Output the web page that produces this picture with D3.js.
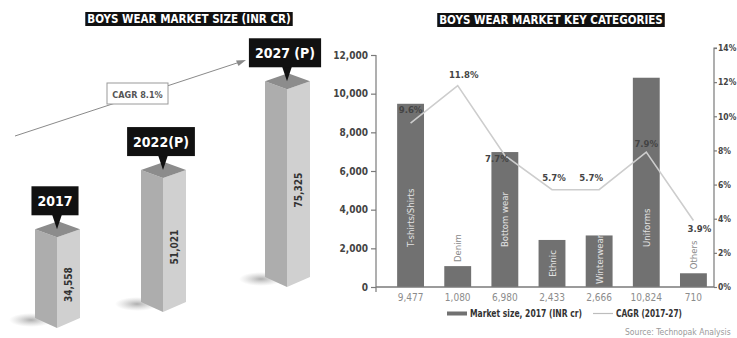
<!DOCTYPE html>
<html>
<head>
<meta charset="utf-8">
<script src="https://cdn.jsdelivr.net/npm/d3@7/dist/d3.min.js"></script>
<style>
  html, body { margin: 0; padding: 0; background: #fff; }
  svg { display: block; }
  text { font-family: "DejaVu Sans Condensed", "Liberation Sans Narrow", "Roboto", sans-serif; }
</style>
</head>
<body>
<svg id="chart" width="737" height="338"></svg>
<script>
// ---- Market size by year ----
const years = ["2017", "2022(P)", "2027 (P)"];
const marketSize = [34558, 51021, 75325];
const marketCagr = "CAGR 8.1%";

// ---- Key categories ----
const categories = ["T-shirts/Shirts", "Denim", "Bottom wear", "Ethnic", "Winterwear", "Uniforms", "Others"];
const categorySize = [9477, 1080, 6980, 2433, 2666, 10824, 710];
const categoryCagr = [9.6, 11.8, 7.7, 5.7, 5.7, 7.9, 3.9];
const sizeTicks = [0, 2000, 4000, 6000, 8000, 10000, 12000];
const cagrTicks = [0, 2, 4, 6, 8, 10, 12, 14];

const svg = d3.select("#chart");
const fmt = d3.format(",");

// ---------- Titles ----------
function title(cx, y, txt) {
  const g = svg.append("g");
  const t = g.append("text").attr("x", cx).attr("y", y)
    .attr("text-anchor", "middle").attr("fill", "#fff")
    .attr("font-size", 11.5).attr("font-weight", "bold").text(txt);
  const b = t.node().getBBox();
  g.insert("rect", "text").attr("x", b.x - 2).attr("y", b.y).attr("width", b.width + 4)
    .attr("height", b.height).attr("fill", "#111");
}
title(189, 23, "BOYS WEAR MARKET SIZE (INR CR)");
title(551, 24, "BOYS WEAR MARKET KEY CATEGORIES");

// ---------- Left panel: isometric columns ----------
const defs = svg.append("defs");
const sh = defs.append("radialGradient").attr("id", "shadow");
sh.append("stop").attr("offset", "0%").attr("stop-color", "#9a9a9a").attr("stop-opacity", 0.8);
sh.append("stop").attr("offset", "100%").attr("stop-color", "#bbb").attr("stop-opacity", 0);

const colHeight = d3.scaleLinear().domain([0, 80000]).range([0, 210]);
const colLeft = [35, 141, 265];     // left corner x of each column
const colBase = [328, 312, 287];    // front-bottom y of each column
const wL = 22, wR = 23, slant = 8;

// trend arrow behind the columns
svg.append("line").attr("x1", 15).attr("y1", 136).attr("x2", 240).attr("y2", 62)
  .attr("stroke", "#8a8a8a").attr("stroke-width", 1);
svg.append("path").attr("d", "M246,60 L236,60.5 L238.5,66 Z").attr("fill", "#8a8a8a");
const cg = svg.append("g");
cg.append("rect").attr("x", 107).attr("y", 83).attr("width", 61).attr("height", 21)
  .attr("fill", "#fff").attr("stroke", "#9a9a9a").attr("stroke-width", 1);
cg.append("text").attr("x", 137.5).attr("y", 97.5).attr("text-anchor", "middle")
  .attr("font-size", 9).attr("font-weight", "bold").attr("fill", "#555").text(marketCagr);

marketSize.forEach((v, i) => {
  const L = colLeft[i], F = L + wL, R = F + wR, base = colBase[i];
  const top = base - colHeight(v);
  const g = svg.append("g");
  // soft floor shadow
  g.append("ellipse").attr("cx", L - 4).attr("cy", base - 8).attr("rx", 22).attr("ry", 7)
    .attr("fill", "url(#shadow)");
  // left face
  g.append("path").attr("d", `M${L},${top - slant} L${F},${top} L${F},${base} L${L},${base - slant - 2} Z`)
    .attr("fill", "#adadad");
  // right face
  g.append("path").attr("d", `M${F},${top} L${R},${top - slant} L${R},${base - slant - 2} L${F},${base} Z`)
    .attr("fill", "#d0d0d0");
  // top face
  g.append("path").attr("d", `M${L},${top - slant} L${F},${top} L${R},${top - slant} L${F + 1},${top - 2 * slant} Z`)
    .attr("fill", "#8c8c8c");
  // value on the right face
  const my = (top + base) / 2 + 2;
  g.append("text").attr("transform", `translate(${F + wR / 2 + 3},${my}) rotate(-90)`)
    .attr("text-anchor", "middle").attr("font-size", 10).attr("font-weight", "bold")
    .attr("fill", "#333").text(fmt(v));
  // year callout
  const bb = top - 22, bh = 29, cx = F - 2;
  const t = g.append("text").attr("x", cx).attr("y", bb - 9).attr("text-anchor", "middle")
    .attr("font-size", 14).attr("font-weight", "bold").attr("fill", "#fff").text(years[i]);
  const bw = t.node().getComputedTextLength() + 12;
  g.insert("path", "text").attr("d", `M${F - 5},${bb - 1} L${F + 5},${bb - 1} L${F},${top - slant}Z`).attr("fill", "#111");
  g.insert("rect", "text").attr("x", cx - bw / 2).attr("y", bb - bh).attr("width", bw).attr("height", bh).attr("fill", "#111");
});

// ---------- Right panel: bars + CAGR line ----------
const x0 = 376, x1 = 714, yBase = 287;
const x = d3.scaleBand().domain(categories).range([387, 717]).paddingInner(0.43).paddingOuter(0.215);
const y = d3.scaleLinear().domain([0, 12000]).range([yBase, 55]);
const yR = d3.scaleLinear().domain([0, 14]).range([yBase, 48]);

// bars
svg.append("g").selectAll("rect").data(categories).join("rect")
  .attr("x", d => x(d)).attr("width", x.bandwidth())
  .attr("y", (d, i) => y(categorySize[i])).attr("height", (d, i) => yBase - y(categorySize[i]))
  .attr("fill", "#717171");

// category names, written upwards inside (or just above) each bar
svg.append("g").selectAll("text").data(categories).join("text")
  .attr("font-size", 9.5).text(d => d)
  .each(function (d, i) {
    const t = d3.select(this);
    const len = this.getComputedTextLength();
    const cx = x(d) + x.bandwidth() / 2 + 3.5;
    const top = y(categorySize[i]), h = yBase - top;
    let yy, fill;
    if (h > 100) { yy = yBase - 40; fill = "#e2e2e2"; }
    else if (h > 30) { yy = Math.min((top + yBase) / 2 + len / 2, yBase - 3); fill = "#e2e2e2"; }
    else { yy = top - 4; fill = "#8a8a8a"; }
    t.attr("transform", `translate(${cx},${yy}) rotate(-90)`)
      .attr("text-anchor", "start").attr("fill", fill);
  });

// values below the axis
svg.append("g").selectAll("text").data(categories).join("text")
  .attr("x", d => x(d) + x.bandwidth() / 2).attr("y", 301)
  .attr("text-anchor", "middle").attr("font-size", 10).attr("fill", "#8c8c8c")
  .text((d, i) => fmt(categorySize[i]));

// CAGR line
const pts = categories.map((d, i) => [x(d) + x.bandwidth() / 2, yR(categoryCagr[i])]);
svg.append("path").attr("d", d3.line()(pts)).attr("fill", "none")
  .attr("stroke", "#cdcdcd").attr("stroke-width", 1.6);
const lblOff = [[0, -10], [6, -8], [-8, 6], [2, -9], [-8, -9], [0, -5], [6, 12]];
svg.append("g").selectAll("text").data(categories).join("text")
  .attr("x", (d, i) => pts[i][0] + lblOff[i][0]).attr("y", (d, i) => pts[i][1] + lblOff[i][1])
  .attr("text-anchor", "middle").attr("font-size", 9.5).attr("font-weight", "bold")
  .attr("fill", "#444").text((d, i) => categoryCagr[i].toFixed(1) + "%");

// axes
const axisColor = "#7a7a7a";
const gl = svg.append("g").attr("transform", `translate(${x0},0)`)
  .call(d3.axisLeft(y).tickValues(sizeTicks).tickFormat(fmt).tickSize(5).tickPadding(3));
gl.select(".domain").attr("d", `M0,55 L0,292`);
const gr = svg.append("g").attr("transform", `translate(${x1},0)`)
  .call(d3.axisRight(yR).tickValues(cagrTicks).tickFormat(d => d + "%").tickSize(3).tickPadding(1));
gr.select(".domain").attr("d", `M3,48 L0,48 L0,${yBase}`);
[gl, gr].forEach(g => {
  g.selectAll(".domain, .tick line").attr("stroke", axisColor).attr("stroke-width", 1.2);
  g.selectAll(".tick text").attr("fill", "#444").attr("font-size", 10).attr("font-weight", "bold")
    .attr("font-family", "\"DejaVu Sans Condensed\", sans-serif");
});
gr.selectAll(".tick text").attr("font-size", 8.5);
svg.append("line").attr("x1", x0).attr("x2", x1).attr("y1", yBase).attr("y2", yBase)
  .attr("stroke", axisColor).attr("stroke-width", 1.4);

// legend
const lg = svg.append("g");
lg.append("rect").attr("x", 447).attr("y", 311.5).attr("width", 20).attr("height", 4).attr("fill", "#717171");
lg.append("text").attr("x", 470).attr("y", 317).attr("font-size", 10).attr("font-weight", "bold")
  .attr("textLength", 112).attr("lengthAdjust", "spacingAndGlyphs")
  .attr("fill", "#333").text("Market size, 2017 (INR cr)");
lg.append("line").attr("x1", 593).attr("x2", 613).attr("y1", 313.5).attr("y2", 313.5)
  .attr("stroke", "#bdbdbd").attr("stroke-width", 1.2);
lg.append("text").attr("x", 616).attr("y", 317).attr("font-size", 10).attr("font-weight", "bold")
  .attr("textLength", 66).attr("lengthAdjust", "spacingAndGlyphs")
  .attr("fill", "#333").text("CAGR (2017-27)");

// source
svg.append("text").attr("x", 625).attr("y", 335).attr("font-size", 8.5).attr("fill", "#9a9a9a")
  .text("Source: Technopak Analysis");
</script>
</body>
</html>
